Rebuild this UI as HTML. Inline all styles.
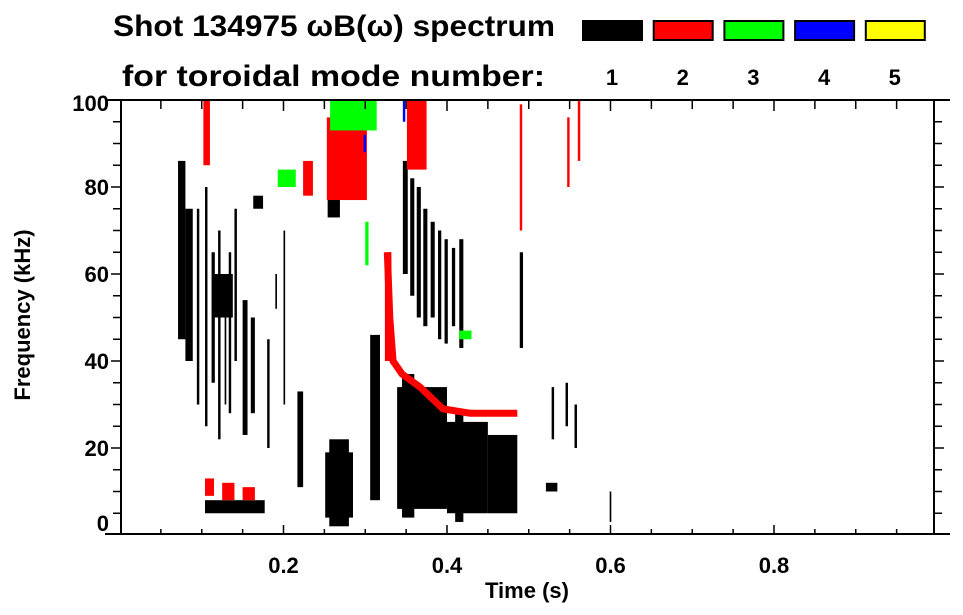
<!DOCTYPE html>
<html><head><meta charset="utf-8"><style>
html,body{margin:0;padding:0;background:#fff;}
svg{display:block;font-family:"Liberation Sans",sans-serif;font-weight:bold;}
</style></head><body>
<svg id="chart" width="963" height="615" viewBox="0 0 963 615" xmlns="http://www.w3.org/2000/svg">
<text x="113" y="36" font-size="30" textLength="442" lengthAdjust="spacingAndGlyphs">Shot 134975 ωB(ω) spectrum</text>
<text x="122" y="86" font-size="30" textLength="423" lengthAdjust="spacingAndGlyphs">for toroidal mode number:</text>
<g id="legend"></g>
<g id="marks"></g>
<g id="axes"></g>
<text transform="translate(30,315) rotate(-90)" text-anchor="middle" font-size="22">Frequency (kHz)</text>
<text x="527" y="598" text-anchor="middle" font-size="22">Time (s)</text>
</svg>
<script>
const modeLabels=["1","2","3","4","5"];
const modeColors=["#000000","#ff0000","#00ff00","#0000ff","#ffff00"];
const xTicks=[0.2,0.4,0.6,0.8];
const yTicks=[0,20,40,60,80,100];
// spectrogram cells: [t0, t1, f0, f1]
const mode1Cells=[
[.071,.080,45,86],[.080,.089,40,75],[.094,.097,30,75],[.104,.107,25,80],[.112,.116,35,65],[.120,.123,22,70],
[.128,.130,30,60],[.133,.136,28,65],[.140,.143,40,75],[.114,.138,50,60],[.150,.156,23,54],
[.160,.165,28,50],[.163,.175,75,78],[.180,.183,20,45],[.190,.192,52,60],[.200,.202,30,70],
[.104,.177,5,8],[.217,.224,11,33],[.251,.285,4,19],[.256,.280,2,22],[.254,.269,73,78],
[.306,.318,8,46],
[.346,.352,60,86],[.355,.360,55,82],[.363,.368,50,80],[.371,.376,48,75],[.380,.385,50,72],[.389,.393,45,70],[.397,.401,44,68],[.406,.410,48,66],[.415,.420,43,68],
[.339,.400,6,34],[.345,.360,4,37],[.400,.450,5,26],[.410,.420,3,28],[.450,.486,5,23],[.489,.493,43,65],
[.528,.531,22,34],[.545,.548,25,35],[.556,.559,20,30],[.521,.535,10,12],[.599,.601,3,10]
];
const mode2Cells=[
[.102,.110,85,100],[.253,.302,77,96],[.224,.236,78,86],[.104,.115,9,13],[.125,.140,8,12],
[.150,.165,8,11],[.351,.375,84,100],[.489,.492,70,99],[.547,.550,80,96],[.560,.563,86,100],
[.324,.332,40,65]
];
const mode3Cells=[[.257,.314,93,100],[.193,.215,80,84],[.415,.430,45,47],[.300,.304,62,72]];
const mode4Cells=[[.346,.349,95,100],[.298,.301,88,92]];
const mode2CurveT=[.327,.330,.334,.345,.367,.395,.428,.486];
const mode2CurveF=[65,50,40,37,34,29,28,28];

const X0=120,XS=817.5,Y0=535,YS=4.35;
const xs=t=>X0+XS*t, ys=f=>Y0-YS*f;
const NS="http://www.w3.org/2000/svg";
function mk(tag,attrs,parent){const e=document.createElementNS(NS,tag);for(const k in attrs)e.setAttribute(k,attrs[k]);parent.appendChild(e);return e;}
const marks=document.getElementById('marks');
const cellSets=[mode1Cells,mode2Cells,mode3Cells,mode4Cells];
cellSets.forEach((cells,m)=>{
  cells.forEach(c=>{
    const r=mk('rect',{x:xs(c[0]),y:ys(c[3]),width:xs(c[1])-xs(c[0]),height:ys(c[2])-ys(c[3]),fill:modeColors[m]},marks);
    
    
  });
});
const pl=mk('polyline',{points:mode2CurveT.map((t,i)=>xs(t)+','+ys(mode2CurveF[i])).join(' '),fill:'none',stroke:modeColors[1],'stroke-width':7},marks);



const lg=document.getElementById('legend');
modeLabels.forEach((l,i)=>{
  const x=582+70.7*i;
  const r=mk('rect',{x:x+1,y:21,width:59,height:19,fill:modeColors[i],stroke:'#000','stroke-width':2},lg);
  
  
  const t=mk('text',{x:x+30,y:85,'text-anchor':'middle','font-size':22},lg);
  t.textContent=l;
  
  
});

const ax=document.getElementById('axes');
const L=121,R=934,T=100,B=534;
mk('line',{x1:105,y1:B,x2:950,y2:B,stroke:'#000','stroke-width':2},ax);
mk('line',{x1:105,y1:T,x2:950,y2:T,stroke:'#000','stroke-width':2},ax);
mk('line',{x1:L,y1:T,x2:L,y2:B,stroke:'#000','stroke-width':2},ax);
mk('line',{x1:R,y1:T,x2:R,y2:B,stroke:'#000','stroke-width':2},ax);
for(let i=1;i<20;i++){
  const t=i*0.05,x=xs(t);const maj=i%4===0;
  mk('line',{x1:x,y1:B,x2:x,y2:B-(maj?9:5),stroke:'#000','stroke-width':1.5},ax);
  mk('line',{x1:x,y1:T,x2:x,y2:T+(maj?11:9),stroke:'#000','stroke-width':1.5},ax);
}
for(let i=1;i<20;i++){
  const y=ys(i*5);const maj=i%4===0;
  mk('line',{x1:L,y1:y,x2:L-(maj?10:8),y2:y,stroke:'#000','stroke-width':1.5},ax);
  mk('line',{x1:R,y1:y,x2:R+(maj?10:8),y2:y,stroke:'#000','stroke-width':1.5},ax);
}
xTicks.forEach(v=>{
  const t=mk('text',{x:xs(v),y:573,'text-anchor':'middle','font-size':22},ax);
  t.textContent=v.toFixed(1);
  
  
});
yTicks.forEach(v=>{
  const y=Math.min(ys(v)+8,531);
  const t=mk('text',{x:109,y:Math.max(y,111),'text-anchor':'end','font-size':22},ax);
  t.textContent=String(v);
  
  
});
</script>
</body></html>
